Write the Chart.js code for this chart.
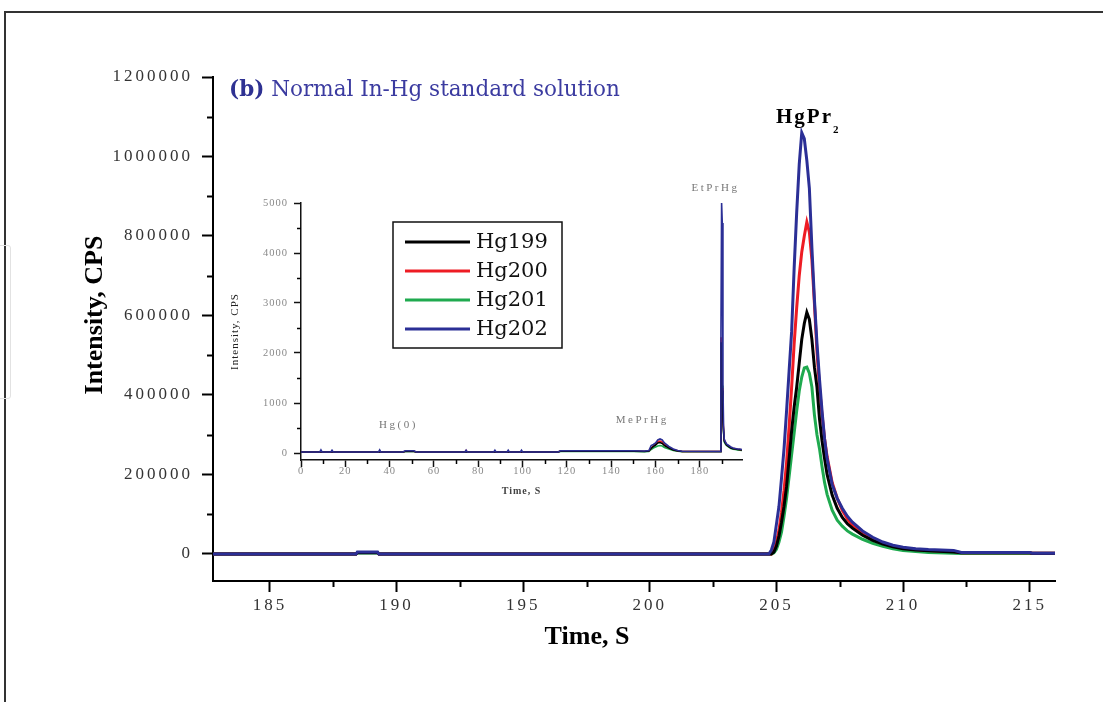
<!DOCTYPE html>
<html>
<head>
<meta charset="utf-8">
<script src="https://cdn.jsdelivr.net/npm/chart.js@4.4.0/dist/chart.umd.min.js"></script>
<style>
html, body { margin: 0; padding: 0; background: #fff; }
#wrap { position: relative; width: 1103px; height: 702px; overflow: hidden; }
#frame { position: absolute; left: 4px; top: 11px; width: 1110px; height: 700px; border-top: 2px solid #333; border-left: 2px solid #333; }
#ghost { position: absolute; left: -3px; top: 245px; width: 12px; height: 152px; border: 1px solid #e2e2e2; border-radius: 3px; }
#main { position: absolute; left: 0; top: 0; }
#inset { position: absolute; left: 225px; top: 180px; }
</style>
</head>
<body>
<div id="wrap">
  <div id="frame"></div>
  <div id="ghost"></div>
  <canvas id="main" width="1103" height="702"></canvas>
  <canvas id="inset" width="530" height="320"></canvas>
</div>
<script>
/* series */
const seriesNames = ['Hg199', 'Hg200', 'Hg201', 'Hg202'];

/* main chart: HgPr2 peak, time in s */
const mainTime = [182.75, 188.4, 188.45, 189.25, 189.3, 204.6,
  204.7, 204.8, 204.9, 205.0, 205.1, 205.2, 205.3, 205.4, 205.5, 205.6, 205.7, 205.8, 205.9,
  206.0, 206.1, 206.2, 206.3, 206.4, 206.5, 206.6, 206.7, 206.8, 206.9, 207.0,
  207.2, 207.4, 207.6, 207.8, 208.0, 208.4, 208.8, 209.2, 209.6, 210.0,
  210.5, 211.0, 212.0, 212.3, 213.0, 215.0, 215.1, 216.0];

const main199 = [0, 0, 3000, 3000, 0, 0,
  0, 0, 5000, 20000, 45000, 80000, 120000, 170000, 240000, 310000, 370000, 420000, 480000,
  540000, 580000, 608000, 590000, 540000, 470000, 420000, 340000, 285000, 240000, 200000,
  148000, 115000, 92000, 76000, 65000, 47000, 34000, 25000, 18000, 13000,
  10000, 8000, 5000, 3000, 3000, 3000, 2000, 2000];

const main200 = [0, 0, 3500, 3500, 0, 0,
  0, 0, 10000, 30000, 60000, 105000, 160000, 230000, 320000, 420000, 530000, 620000, 700000,
  760000, 800000, 835000, 810000, 740000, 630000, 510000, 420000, 350000, 290000, 245000,
  180000, 140000, 110000, 88000, 72000, 52000, 38000, 27000, 20000, 15000,
  11000, 9000, 6000, 3000, 3000, 3000, 2000, 2000];

const main201 = [0, 0, 2500, 2500, 0, 0,
  0, 0, 3000, 12000, 30000, 55000, 95000, 140000, 195000, 250000, 305000, 360000, 410000,
  445000, 468000, 470000, 455000, 420000, 350000, 300000, 265000, 220000, 180000, 150000,
  110000, 85000, 70000, 58000, 50000, 37000, 27000, 19000, 13000, 9000,
  6000, 4000, 2000, 1000, 1000, 1000, 1000, 1000];

const main202 = [0, 0, 5000, 5000, 0, 0,
  0, 10000, 30000, 75000, 120000, 190000, 265000, 360000, 460000, 560000, 720000, 860000, 980000,
  1060000, 1045000, 990000, 920000, 770000, 640000, 530000, 440000, 360000, 290000, 240000,
  175000, 140000, 115000, 95000, 80000, 58000, 42000, 30000, 22000, 17000,
  13000, 11000, 9000, 4000, 4000, 4000, 2000, 2000];

const mainXTicks = [185, 190, 195, 200, 205, 210, 215];
const mainXMinor = [187.5, 192.5, 197.5, 202.5, 207.5, 212.5];
const mainYTicks = [0, 200000, 400000, 600000, 800000, 1000000, 1200000];
const mainYMinor = [100000, 300000, 500000, 700000, 900000, 1100000];

/* inset: whole run, 0-199 s */
const insetTime = [0, 8.5, 9, 9.5, 13.5, 14, 14.5, 35, 35.5, 36, 46, 47, 51, 52,
  74, 74.5, 75, 87, 87.5, 88, 93, 93.5, 94, 99, 99.5, 100, 116, 117, 150,
  155, 157, 158, 159, 160, 161, 162, 163, 164, 166, 168, 170, 172,
  189.2, 189.5, 189.8, 190.1, 190.4, 190.7, 191.0, 191.5, 192, 193, 194, 195, 196, 197, 198, 199];

const inset199 = [20, 20, 20, 20, 20, 20, 20, 20, 20, 20, 20, 30, 30, 20,
  20, 20, 20, 20, 20, 20, 20, 20, 20, 20, 20, 20, 20, 35, 35,
  30, 40, 90, 130, 160, 200, 210, 190, 150, 100, 60, 40, 30,
  30, 2200, 2200, 1250, 650, 420, 240, 200, 160, 130, 100, 85, 80, 70, 65, 60];

const inset200 = [20, 20, 20, 20, 20, 20, 20, 20, 20, 20, 20, 35, 35, 20,
  20, 50, 20, 20, 20, 20, 20, 20, 20, 20, 20, 20, 20, 40, 40,
  35, 45, 100, 140, 180, 230, 240, 220, 170, 110, 70, 45, 30,
  30, 2300, 2300, 1300, 700, 450, 260, 220, 170, 140, 110, 95, 85, 75, 70, 65];

const inset201 = [15, 15, 15, 15, 15, 15, 15, 15, 15, 15, 15, 30, 30, 15,
  15, 15, 15, 15, 15, 15, 15, 15, 15, 15, 15, 15, 15, 30, 30,
  25, 30, 70, 100, 120, 140, 150, 140, 110, 80, 50, 35, 25,
  25, 2250, 2250, 1350, 600, 400, 220, 180, 150, 120, 90, 75, 70, 60, 55, 50];

const inset202 = [20, 20, 60, 20, 20, 55, 20, 20, 60, 20, 20, 45, 45, 20,
  20, 55, 20, 20, 55, 20, 20, 55, 20, 20, 55, 20, 20, 45, 45,
  40, 50, 150, 170, 200, 260, 280, 260, 200, 130, 80, 50, 35,
  30, 2400, 5000, 4600, 1350, 500, 280, 220, 180, 150, 120, 100, 90, 80, 80, 70];

const insetXTicks = [0, 20, 40, 60, 80, 100, 120, 140, 160, 180];
const insetXMinor = [10, 30, 50, 70, 90, 110, 130, 150, 170, 190];
const insetYTicks = [0, 1000, 2000, 3000, 4000, 5000];
const insetYMinor = [500, 1500, 2500, 3500, 4500];

/* peak labels in the inset: [text, time, cps] */
const insetPeaks = [['Hg(0)', 44, 560], ['MePrHg', 154, 660], ['EtPrHg', 187, 5300]];

const colors = ['#000000', '#ee1c24', '#1faa4f', '#2b2f96'];
const drawOrder = [1, 2, 3, 0];

function pts(xs, ys) {
  return xs.map((x, i) => ({ x: x, y: ys[i] }));
}

function makeSets(xs, lists, width) {
  return lists.map((ys, i) => ({
    label: seriesNames[i],
    data: pts(xs, ys),
    borderColor: colors[i],
    backgroundColor: colors[i],
    borderWidth: width,
    pointRadius: 0,
    tension: 0,
    order: drawOrder[i]
  }));
}

const serif = '"Liberation Serif", "Times New Roman", serif';

/* canvas letter spacing for tick labels */
const spacing = {
  id: 'spacing',
  beforeUpdate(chart, args, opts) { chart.ctx.letterSpacing = opts.value; },
  beforeDraw(chart, args, opts) { chart.ctx.letterSpacing = opts.value; }
};

/* short minor ticks between the labelled ones */
const minorTicks = {
  id: 'minorTicks',
  afterDraw(chart, args, opts) {
    const { ctx, chartArea } = chart;
    ctx.save();
    ctx.strokeStyle = '#000';
    ctx.lineWidth = opts.width;
    opts.x.forEach(v => {
      const px = Math.round(chart.scales.x.getPixelForValue(v)) + 0.5;
      ctx.beginPath();
      ctx.moveTo(px, chartArea.bottom);
      ctx.lineTo(px, chartArea.bottom + opts.len);
      ctx.stroke();
    });
    opts.y.forEach(v => {
      const py = Math.round(chart.scales.y.getPixelForValue(v)) + 0.5;
      ctx.beginPath();
      ctx.moveTo(chartArea.left, py);
      ctx.lineTo(chartArea.left - opts.len, py);
      ctx.stroke();
    });
    ctx.restore();
  }
};

const mainText = {
  id: 'mainText',
  afterDraw(chart) {
    const { ctx, scales: { x, y } } = chart;
    ctx.save();
    ctx.letterSpacing = '0px';
    ctx.fillStyle = '#000';
    ctx.textBaseline = 'middle';
    ctx.textAlign = 'center';
    ctx.font = 'bold 26px ' + serif;
    ctx.fillText('Time, S', 587, 637);
    ctx.save();
    ctx.translate(95, 315);
    ctx.rotate(-Math.PI / 2);
    ctx.fillText('Intensity, CPS', 0, 0);
    ctx.restore();

    // title
    ctx.textAlign = 'left';
    ctx.font = 'bold 21.5px "DejaVu Serif", serif';
    ctx.fillStyle = '#2e3192';
    ctx.fillText('(b)', 229, 90);
    const w = ctx.measureText('(b)').width;
    ctx.font = '21.5px "DejaVu Serif", serif';
    ctx.fillStyle = '#3b3ba0';
    ctx.fillText(' Normal In-Hg standard solution', 229 + w, 90);

    // peak label
    const px = x.getPixelForValue(206.05);
    const py = y.getPixelForValue(1062000);
    ctx.fillStyle = '#000';
    ctx.font = 'bold 21px ' + serif;
    ctx.letterSpacing = '2px';
    ctx.fillText('HgPr', px - 27, py - 14);
    const hw = ctx.measureText('HgPr').width;
    ctx.font = 'bold 11px ' + serif;
    ctx.fillText('2', px - 27 + hw, py - 2);
    ctx.restore();
  }
};

const insetText = {
  id: 'insetText',
  afterDraw(chart) {
    const { ctx, scales: { x, y } } = chart;
    ctx.save();
    // peak labels
    ctx.letterSpacing = '2.5px';
    ctx.fillStyle = '#777';
    ctx.font = '11px ' + serif;
    ctx.textAlign = 'center';
    ctx.textBaseline = 'middle';
    insetPeaks.forEach(p => ctx.fillText(p[0], x.getPixelForValue(p[1]), y.getPixelForValue(p[2])));

    // legend box
    ctx.letterSpacing = '0px';
    const bx = 168, by = 42, bw = 169, bh = 126;
    ctx.fillStyle = '#fff';
    ctx.fillRect(bx, by, bw, bh);
    ctx.strokeStyle = '#111';
    ctx.lineWidth = 1.5;
    ctx.strokeRect(bx, by, bw, bh);
    ctx.font = '21px "DejaVu Serif", serif';
    ctx.textAlign = 'left';
    chart.data.datasets.forEach((ds, i) => {
      const ry = by + 20 + i * 29;
      ctx.strokeStyle = ds.borderColor;
      ctx.lineWidth = 3;
      ctx.beginPath();
      ctx.moveTo(bx + 12, ry);
      ctx.lineTo(bx + 77, ry);
      ctx.stroke();
      ctx.fillStyle = '#111';
      ctx.fillText(ds.label, bx + 83, ry + 1);
    });
    ctx.restore();
  }
};

new Chart(document.getElementById('main'), {
  type: 'line',
  data: { datasets: makeSets(mainTime, [main199, main200, main201, main202], 3) },
  options: {
    responsive: false,
    animation: false,
    layout: { padding: { left: 0, top: 77, right: 48, bottom: 0 } },
    plugins: {
      legend: { display: false },
      tooltip: { enabled: false },
      spacing: { value: '3px' },
      minorTicks: { x: mainXMinor, y: mainYMinor, len: 6, width: 2 }
    },
    scales: {
      x: {
        type: 'linear',
        min: 182.75,
        max: 216,
        afterBuildTicks: s => { s.ticks = mainXTicks.map(v => ({ value: v })); },
        afterFit: s => { s.height = 121; },
        border: { display: true, color: '#000', width: 2 },
        grid: { display: true, drawOnChartArea: false, drawTicks: true, tickLength: 11, tickColor: '#000', tickWidth: 2 },
        ticks: { color: '#333', font: { family: serif, size: 17 }, padding: 3, maxRotation: 0, autoSkip: false, callback: v => String(v) }
      },
      y: {
        type: 'linear',
        min: -68000,
        max: 1200000,
        afterBuildTicks: s => { s.ticks = mainYTicks.map(v => ({ value: v })); },
        afterFit: s => { s.width = 213; },
        border: { display: true, color: '#000', width: 2 },
        grid: { display: true, drawOnChartArea: false, drawTicks: true, tickLength: 11, tickColor: '#000', tickWidth: 2 },
        ticks: { color: '#333', font: { family: serif, size: 17 }, padding: 9, autoSkip: false, callback: v => String(v) }
      }
    }
  },
  plugins: [spacing, minorTicks, mainText]
});

new Chart(document.getElementById('inset'), {
  type: 'line',
  data: { datasets: makeSets(insetTime, [inset199, inset200, inset201, inset202], 1.6) },
  options: {
    responsive: false,
    animation: false,
    layout: { padding: { left: 0, top: 23, right: 13, bottom: 0 } },
    plugins: {
      legend: { display: false },
      tooltip: { enabled: false },
      spacing: { value: '1px' },
      minorTicks: { x: insetXMinor, y: insetYMinor, len: 4, width: 1.5 }
    },
    scales: {
      x: {
        type: 'linear',
        min: 0,
        max: 199,
        afterBuildTicks: s => { s.ticks = insetXTicks.map(v => ({ value: v })); },
        afterFit: s => { s.height = 40; },
        border: { display: true, color: '#111', width: 1.5 },
        grid: { display: true, drawOnChartArea: false, drawTicks: true, tickLength: 7, tickColor: '#111', tickWidth: 1.5 },
        ticks: { color: '#888', font: { family: serif, size: 10.5 }, padding: -2, maxRotation: 0, autoSkip: false, callback: v => String(v) },
        title: { display: true, text: 'Time, S', color: '#444', font: { family: serif, size: 10, weight: 'bold' }, padding: { top: 0, bottom: 3 } }
      },
      y: {
        type: 'linear',
        min: -140,
        max: 5000,
        afterBuildTicks: s => { s.ticks = insetYTicks.map(v => ({ value: v })); },
        afterFit: s => { s.width = 76; },
        border: { display: true, color: '#111', width: 1.5 },
        grid: { display: true, drawOnChartArea: false, drawTicks: true, tickLength: 7, tickColor: '#111', tickWidth: 1.5 },
        ticks: { color: '#888', font: { family: serif, size: 10.5 }, padding: 6, autoSkip: false, callback: v => String(v) },
        title: { display: true, text: 'Intensity, CPS', color: '#222', font: { family: serif, size: 11 }, padding: { top: 4, bottom: 0 } }
      }
    }
  },
  plugins: [spacing, minorTicks, insetText]
});
</script>
</body>
</html>
